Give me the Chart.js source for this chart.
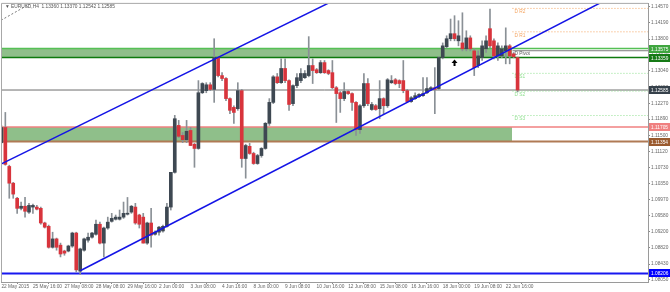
<!DOCTYPE html>
<html>
<head>
<meta charset="utf-8">
<script src="https://cdn.jsdelivr.net/npm/chart.js@4.4.1/dist/chart.umd.min.js"></script>
<style>
  html, body { margin: 0; padding: 0; background: #fff; }
  #wrap { width: 670px; height: 292px; position: relative; }
</style>
</head>
<body>
<div id="wrap"><canvas id="chart"></canvas></div>
<script>
// EURUSD H4 candles
const opens = [
  1.1133, 1.1169, 1.1076, 1.1036, 1.1000, 1.0976, 1.0981, 1.0967, 1.0979, 1.0979,
  1.0976, 1.0941, 1.0933, 1.0883, 1.0903, 1.0888, 1.0874, 1.0874, 1.0886, 1.0917,
  1.0826, 1.0876, 1.0900, 1.0907, 1.0914, 1.0938, 1.0893, 1.0929, 1.0945, 1.0950,
  1.0950, 1.0955, 1.0962, 1.0967, 1.0979, 1.0960, 1.0955, 1.0893, 1.0941, 1.0914,
  1.0919, 1.0922, 1.0933, 1.0979, 1.1062, 1.1174, 1.1150, 1.1140, 1.1162, 1.1129,
  1.1119, 1.1252, 1.1257, 1.1271, 1.1260, 1.1336, 1.1293, 1.1286, 1.1238, 1.1217,
  1.1214, 1.1257, 1.1095, 1.1124, 1.1107, 1.1083, 1.1102, 1.1119, 1.1179, 1.1229,
  1.1290, 1.1276, 1.1310, 1.1281, 1.1226, 1.1269, 1.1281, 1.1288, 1.1293, 1.1317,
  1.1307, 1.1300, 1.1324, 1.1305, 1.1300, 1.1264, 1.1252, 1.1238, 1.1255, 1.1250,
  1.1229, 1.1164, 1.1221, 1.1274, 1.1212, 1.1221, 1.1214, 1.1238, 1.1221, 1.1276,
  1.1283, 1.1281, 1.1281, 1.1257, 1.1231, 1.1238, 1.1243, 1.1245, 1.1252, 1.1260,
  1.1264, 1.1262, 1.1336, 1.1362, 1.1381, 1.1393, 1.1376, 1.1371, 1.1357, 1.1383,
  1.1352, 1.1317, 1.1336, 1.1357, 1.1405, 1.1376, 1.1340, 1.1340, 1.1352, 1.1364,
  1.1345, 1.1336
];
const highs = [
  1.1174, 1.1205, 1.1079, 1.1038, 1.1002, 1.0991, 1.1002, 1.0988, 1.0986, 1.0983,
  1.0979, 1.0943, 1.0936, 1.0919, 1.0905, 1.0893, 1.0876, 1.0888, 1.0919, 1.0919,
  1.0881, 1.0905, 1.0917, 1.0919, 1.0948, 1.0943, 1.0931, 1.0955, 1.0964, 1.0960,
  1.0972, 1.0991, 1.1002, 1.0983, 1.0988, 1.0962, 1.0964, 1.0943, 1.0976, 1.0922,
  1.0933, 1.0936, 1.0988, 1.1062, 1.1198, 1.1186, 1.1157, 1.1186, 1.1169, 1.1131,
  1.1281, 1.1276, 1.1276, 1.1276, 1.1381, 1.1338, 1.1300, 1.1288, 1.1240, 1.1221,
  1.1276, 1.1260, 1.1129, 1.1131, 1.1110, 1.1105, 1.1121, 1.1181, 1.1238, 1.1293,
  1.1298, 1.1333, 1.1333, 1.1283, 1.1271, 1.1298, 1.1310, 1.1305, 1.1386, 1.1333,
  1.1310, 1.1329, 1.1329, 1.1307, 1.1329, 1.1267, 1.1255, 1.1276, 1.1257, 1.1252,
  1.1231, 1.1224, 1.1298, 1.1286, 1.1229, 1.1224, 1.1281, 1.1240, 1.1286, 1.1293,
  1.1286, 1.1283, 1.1329, 1.1260, 1.1243, 1.1252, 1.1250, 1.1288, 1.1288, 1.1267,
  1.1312, 1.1338, 1.1371, 1.1388, 1.1428, 1.1436, 1.1424, 1.1443, 1.1400, 1.1388,
  1.1357, 1.1352, 1.1376, 1.1388, 1.1452, 1.1381, 1.1371, 1.1364, 1.1407, 1.1367,
  1.1348, 1.1337
];
const lows = [
  1.1131, 1.1079, 1.1000, 1.1000, 1.0964, 1.0972, 1.0955, 1.0964, 1.0964, 1.0972,
  1.0938, 1.0929, 1.0881, 1.0881, 1.0876, 1.0860, 1.0864, 1.0872, 1.0883, 1.0824,
  1.0818, 1.0874, 1.0895, 1.0905, 1.0912, 1.0891, 1.0860, 1.0926, 1.0943, 1.0948,
  1.0948, 1.0952, 1.0960, 1.0964, 1.0938, 1.0929, 1.0893, 1.0890, 1.0883, 1.0912,
  1.0912, 1.0919, 1.0931, 1.0972, 1.1060, 1.1145, 1.1133, 1.1133, 1.1126, 1.1074,
  1.1117, 1.1250, 1.1252, 1.1257, 1.1229, 1.1290, 1.1281, 1.1233, 1.1202, 1.1179,
  1.1210, 1.1074, 1.1048, 1.1105, 1.1081, 1.1081, 1.1098, 1.1117, 1.1174, 1.1226,
  1.1274, 1.1274, 1.1276, 1.1210, 1.1221, 1.1264, 1.1276, 1.1286, 1.1290, 1.1274,
  1.1298, 1.1298, 1.1298, 1.1295, 1.1262, 1.1181, 1.1205, 1.1233, 1.1248, 1.1210,
  1.1150, 1.1155, 1.1217, 1.1221, 1.1210, 1.1210, 1.1190, 1.1202, 1.1217, 1.1274,
  1.1271, 1.1264, 1.1252, 1.1229, 1.1229, 1.1236, 1.1240, 1.1243, 1.1250, 1.1257,
  1.1202, 1.1260, 1.1333, 1.1359, 1.1376, 1.1376, 1.1364, 1.1352, 1.1352, 1.1352,
  1.1293, 1.1312, 1.1329, 1.1348, 1.1359, 1.1333, 1.1329, 1.1336, 1.1321, 1.1321,
  1.1336, 1.1254
];
const closes = [
  1.1169, 1.1081, 1.1036, 1.1010, 1.0976, 1.0981, 1.0969, 1.0983, 1.0983, 1.0974,
  1.0941, 1.0931, 1.0883, 1.0903, 1.0883, 1.0867, 1.0869, 1.0886, 1.0917, 1.0829,
  1.0879, 1.0903, 1.0907, 1.0917, 1.0938, 1.0893, 1.0929, 1.0943, 1.0952, 1.0955,
  1.0955, 1.0964, 1.0964, 1.0981, 1.0941, 1.0938, 1.0893, 1.0941, 1.0912, 1.0919,
  1.0931, 1.0933, 1.0979, 1.1062, 1.1190, 1.1148, 1.1140, 1.1160, 1.1126, 1.1119,
  1.1252, 1.1274, 1.1271, 1.1260, 1.1336, 1.1293, 1.1286, 1.1238, 1.1210, 1.1205,
  1.1257, 1.1095, 1.1126, 1.1107, 1.1083, 1.1102, 1.1119, 1.1179, 1.1229, 1.1290,
  1.1276, 1.1310, 1.1281, 1.1224, 1.1269, 1.1288, 1.1298, 1.1298, 1.1317, 1.1305,
  1.1300, 1.1324, 1.1300, 1.1298, 1.1264, 1.1250, 1.1238, 1.1255, 1.1250, 1.1229,
  1.1164, 1.1221, 1.1274, 1.1226, 1.1224, 1.1212, 1.1238, 1.1221, 1.1283, 1.1281,
  1.1274, 1.1274, 1.1257, 1.1231, 1.1240, 1.1245, 1.1248, 1.1250, 1.1262, 1.1264,
  1.1260, 1.1336, 1.1364, 1.1381, 1.1393, 1.1381, 1.1388, 1.1357, 1.1383, 1.1357,
  1.1312, 1.1340, 1.1364, 1.1376, 1.1364, 1.1340, 1.1364, 1.1357, 1.1364, 1.1340,
  1.1338, 1.12585
];

// time axis: one label every 8 bars
const timeLabels = [
  '22 May 2015', '25 May 16:00', '27 May 08:00', '28 May 08:00', '29 May 16:00',
  '2 Jun 00:00', '3 Jun 08:00', '4 Jun 16:00', '8 Jun 00:00', '9 Jun 08:00',
  '10 Jun 16:00', '12 Jun 08:00', '15 Jun 08:00', '16 Jun 16:00', '18 Jun 00:00',
  '19 Jun 08:00', '22 Jun 16:00'
];
const priceTicks = [
  1.08050, 1.08430, 1.08820, 1.09200, 1.09580, 1.09970, 1.10350, 1.10730, 1.11120,
  1.11500, 1.11890, 1.12270, 1.12650, 1.13040, 1.13420, 1.13800, 1.14190, 1.14570
];

// drawn objects
const upperZone = [1.13575, 1.13359];
const lowerZone = [1.11705, 1.11354];
const bidPrice = 1.12585;
const supportLevel = 1.08206;
const pivotNames = ['D R2', 'D R1', 'D Pivot', 'D S1', 'D S2', 'D S3'];
const pivotLevels = [1.14534, 1.13975, 1.13523, 1.12983, 1.12559, 1.11976];
const upperChannel = [[0, 1.10822], [100, 1.15446]];
const lowerChannel = [[20, 1.08270], [164, 1.15247]];
const dashTrend = [[-0.1, 1.14250], [10, 1.14790]];

const X_MIN = -0.1, X_MAX = 164.1, Y_MIN = 1.08001, Y_MAX = 1.14642;
const ZONE_END = 129.6, PIVOT_START = 129.7;
const FONT = '"Liberation Sans", Arial, sans-serif';

const BULL = '#3e4852', BEAR = '#d8343c', WICK = '#8a9096';

const bodies = opens.map((o, i) => ({ x: i, y: [o, closes[i]] }));
const wicks = lows.map((l, i) => ({ x: i, y: [l, highs[i]] }));
const bodyColors = opens.map((o, i) => closes[i] >= o ? BULL : BEAR);

function hline(price, color, width, from, to, dash, order) {
  return {
    type: 'line',
    data: [{ x: from, y: price }, { x: to, y: price }],
    borderColor: color, borderWidth: width, borderDash: dash || [],
    pointRadius: 0, fill: false, order: order,
  };
}
function segment(pts, color, width, dash, order) {
  return {
    type: 'line',
    data: pts.map(p => ({ x: p[0], y: p[1] })),
    borderColor: color, borderWidth: width, borderDash: dash || [],
    pointRadius: 0, fill: false, order: order,
  };
}
function zone(z, color) {
  return {
    type: 'line',
    data: [{ x: X_MIN, y: z[0] }, { x: ZONE_END, y: z[0] }],
    borderWidth: 0, pointRadius: 0, backgroundColor: color,
    fill: { value: z[1] }, order: 20,
  };
}

const pivotColors = ['#f4a460', '#f4a460', '#7a7a7a', '#8fe08f', '#8fe08f', '#8fe08f'];
const pivotSets = pivotLevels.map((p, k) =>
  hline(p, pivotColors[k], 1, PIVOT_START, X_MAX, k === 2 ? [] : [1, 2], 9));

const axisBoxes = [
  [upperZone[0], '#3fa63f', upperZone[0].toFixed(5)],
  [upperZone[1], '#167a16', upperZone[1].toFixed(5)],
  [bidPrice, '#36414b', bidPrice.toFixed(5)],
  [lowerZone[0], '#f08080', lowerZone[0].toFixed(5)],
  [lowerZone[1], '#9a5a2e', lowerZone[1].toFixed(5)],
  [supportLevel, '#0000ff', supportLevel.toFixed(5)],
];

const overlay = {
  id: 'overlay',
  beforeDatasetsDraw(chart) {
    const { ctx, scales: { x, y } } = chart;
    ctx.save();
    ctx.font = '4.8px ' + FONT;
    ctx.textBaseline = 'top';
    pivotLevels.forEach((p, k) => {
      ctx.fillStyle = k === 2 ? '#555' : pivotColors[k];
      ctx.fillText(pivotNames[k], x.getPixelForValue(PIVOT_START) + 2, y.getPixelForValue(p) + 1);
    });
    ctx.restore();
  },
  afterDraw(chart) {
    const { ctx, chartArea: a, scales: { x, y } } = chart;
    ctx.save();
    // frame
    ctx.strokeStyle = '#a8a8a8';
    ctx.lineWidth = 1;
    ctx.beginPath();
    ctx.moveTo(a.left + 0.5, a.bottom);
    ctx.lineTo(a.left + 0.5, a.top - 0.5);
    ctx.lineTo(a.right, a.top - 0.5);
    ctx.stroke();
    // arrow marker
    const ax = x.getPixelForValue(115), ay = y.getPixelForValue(1.1323);
    ctx.fillStyle = '#000';
    ctx.beginPath();
    ctx.moveTo(ax, ay - 3.5);
    ctx.lineTo(ax + 3, ay);
    ctx.lineTo(ax + 1, ay);
    ctx.lineTo(ax + 1, ay + 3);
    ctx.lineTo(ax - 1, ay + 3);
    ctx.lineTo(ax - 1, ay);
    ctx.lineTo(ax - 3, ay);
    ctx.closePath();
    ctx.fill();
    // title
    ctx.font = '4.8px ' + FONT;
    ctx.textBaseline = 'middle';
    ctx.fillStyle = '#555';
    ctx.fillText('\u25BC EURUSD,H4  1.13360 1.13370 1.12542 1.12585', a.left + 4, a.top + 3);
    // price boxes on the right axis
    axisBoxes.forEach(([p, bg, txt]) => {
      const py = Math.round(y.getPixelForValue(p));
      ctx.fillStyle = bg;
      ctx.fillRect(a.right + 1, py - 4, 21, 8);
      ctx.fillStyle = '#fff';
      ctx.fillText(txt, a.right + 3, py + 0.5);
    });
    ctx.restore();
  },
};

new Chart(document.getElementById('chart'), {
  type: 'bar',
  data: {
    datasets: [
      zone(upperZone, '#8fbf8a'),
      zone(lowerZone, '#8fbf8a'),
      hline(upperZone[0], '#55c055', 1.5, X_MIN, X_MAX, [], 10),
      hline(upperZone[1], '#0d7a0d', 1.5, X_MIN, X_MAX, [], 10),
      hline(lowerZone[0], '#f08080', 1.5, X_MIN, X_MAX, [], 10),
      hline(lowerZone[1], '#b07a55', 2, X_MIN, X_MAX, [], 10),
      hline(bidPrice, '#6e6e6e', 1, X_MIN, X_MAX, [], 10),
      hline(supportLevel, '#1818f0', 2, X_MIN, X_MAX, [], 10),
      ...pivotSets,
      segment(dashTrend, '#777', 1, [2, 2], 8),
      {
        type: 'bar', data: wicks, backgroundColor: WICK, borderWidth: 0,
        barThickness: 1, grouped: false, order: 3,
      },
      {
        type: 'bar', data: bodies, backgroundColor: bodyColors, borderWidth: 0,
        barThickness: 3, grouped: false, minBarLength: 1, order: 2,
      },
      segment(upperChannel, '#1414e6', 1.5, [], 1),
      segment(lowerChannel, '#1414e6', 1.5, [], 1),
    ],
  },
  options: {
    responsive: true,
    maintainAspectRatio: false,
    animation: false,
    layout: { padding: { left: 1, top: 3, right: 0, bottom: 0 } },
    plugins: { legend: { display: false }, tooltip: { enabled: false } },
    scales: {
      x: {
        type: 'linear', min: X_MIN, max: X_MAX, offset: false,
        afterFit: s => { s.height = 10; },
        afterBuildTicks: s => { s.ticks = timeLabels.map((_, k) => ({ value: k * 8 })); },
        grid: { drawOnChartArea: false, drawTicks: true, tickLength: 2, color: '#888' },
        border: { color: '#9a9a9a' },
        ticks: {
          autoSkip: false, maxRotation: 0, align: 'start', padding: 0,
          color: '#666', font: { family: FONT, size: 4.8 },
          callback: v => timeLabels[Math.round(v / 8)],
        },
      },
      y: {
        type: 'linear', position: 'right', min: Y_MIN, max: Y_MAX, beginAtZero: false,
        afterFit: s => { s.width = 22; },
        afterBuildTicks: s => { s.ticks = priceTicks.map(v => ({ value: v })); },
        grid: { drawOnChartArea: false, drawTicks: true, tickLength: 2, color: '#888' },
        border: { color: '#9a9a9a' },
        ticks: {
          autoSkip: false, padding: 1, color: '#666', font: { family: FONT, size: 4.8 },
          callback: v => v.toFixed(5),
        },
      },
    },
  },
  plugins: [overlay],
});
</script>
</body>
</html>
